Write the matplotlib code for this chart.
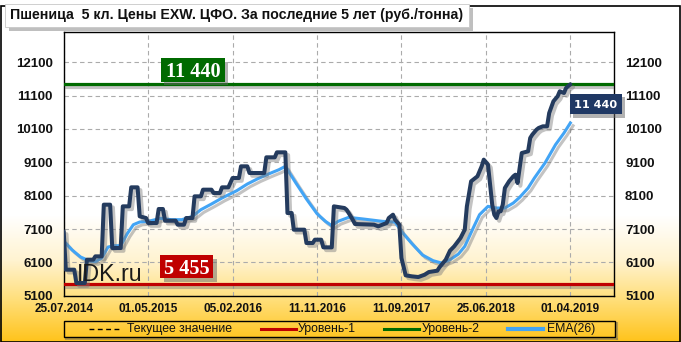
import numpy as np
import matplotlib
matplotlib.use("Agg")
import matplotlib.pyplot as plt
from matplotlib import font_manager
from matplotlib.patches import Rectangle
from matplotlib.lines import Line2D
import matplotlib.patheffects as pe

# ---------------- data ----------------
title_text = "Пшеница  5 кл. Цены EXW. ЦФО. За последние 5 лет (руб./тонна)"
x_tick_weeks = [0, 40, 80, 120, 160, 200, 240]
x_tick_labels = ["25.07.2014", "01.05.2015", "05.02.2016", "11.11.2016",
                 "11.09.2017", "25.06.2018", "01.04.2019"]
y_ticks = [5100, 6100, 7100, 8100, 9100, 10100, 11100, 12100]
level_1 = 5455
level_2 = 11440
current_value = 11440
legend_labels = ["Текущее значение", "Уровень-1", "Уровень-2", "EMA(26)"]

price_weeks = [0, 1, 5, 6, 10, 11, 14, 15, 18, 19, 22, 23, 27, 28, 31, 32, 35, 36,
               39, 40, 44, 45, 47, 48, 53, 54, 57, 58, 61, 62, 65, 66, 70, 71, 74,
               75, 78, 80, 83, 84, 87, 88, 95, 96, 100, 101, 105, 106, 108, 109,
               114, 115, 118, 119, 122, 123, 127, 128, 133, 134, 136, 138, 147,
               149, 151, 153, 154, 156, 157, 159, 160, 162, 165, 168, 171, 173,
               177, 178, 181, 183, 185, 188, 190, 191, 193, 196, 198, 199, 201,
               202, 203, 204, 205, 206, 207, 208, 209, 211, 213, 214, 215, 216,
               217, 220, 221, 222, 224, 225, 227, 229, 230, 232, 234, 235, 237,
               238, 240]
price_values = [7030, 5880, 5880, 5480, 5480, 6180, 6180, 6280, 6280, 7830, 7830,
                6530, 6530, 7780, 7780, 8350, 8350, 7480, 7430, 7280, 7280, 7700,
                7700, 7350, 7350, 7230, 7230, 7430, 7430, 8080, 8080, 8280, 8280,
                8180, 8180, 8350, 8350, 8630, 8630, 8980, 8980, 8780, 8780, 9250,
                9250, 9400, 9400, 7580, 7580, 7080, 7080, 6680, 6680, 6780, 6780,
                6550, 6550, 7780, 7730, 7680, 7480, 7250, 7230, 7180, 7230, 7280,
                7430, 7530, 7380, 7230, 6230, 5710, 5680, 5660, 5730, 5810, 5850,
                5950, 6180, 6450, 6580, 6830, 7080, 7780, 8530, 8680, 8980, 9180,
                9030, 8430, 7830, 7530, 7430, 7630, 7630, 7830, 8330, 8530, 8680,
                8730, 8480, 8930, 9380, 9430, 9830, 9930, 10080, 10130, 10180,
                10180, 10580, 10930, 11080, 11230, 11180, 11330, 11440]

ema_weeks = [0, 4, 8, 12, 15, 18, 21, 24, 27, 30, 33, 36, 40, 46, 51, 56, 61, 65,
             70, 75, 82, 87, 92, 97, 102, 105, 110, 115, 120, 124, 127, 130, 135,
             142, 151, 157, 160, 165, 170, 175, 179, 183, 187, 190, 194, 197, 201,
             205, 209, 213, 216, 220, 223, 228, 233, 237, 240]
ema_values = [6740, 6470, 6260, 6150, 6120, 6230, 6560, 6600, 6600, 6950, 7230,
              7310, 7330, 7420, 7380, 7380, 7480, 7680, 7850, 8030, 8250, 8450,
              8610, 8750, 8880, 8980, 8480, 8000, 7560, 7330, 7200, 7330, 7450,
              7400, 7330, 7310, 7030, 6660, 6320, 6150, 6080, 6180, 6350, 6580,
              7130, 7530, 7780, 7730, 7730, 7880, 8050, 8330, 8630, 9080, 9630,
              9980, 10280]

# ---------------- fonts ----------------
def font_ok(name):
    try:
        font_manager.findfont(font_manager.FontProperties(family=name),
                              fallback_to_default=False)
        return True
    except Exception:
        return False

SANS = "Liberation Sans" if font_ok("Liberation Sans") else "DejaVu Sans"
NARROW = "Liberation Sans Narrow" if font_ok("Liberation Sans Narrow") else SANS
SERIF = "Liberation Serif" if font_ok("Liberation Serif") else "DejaVu Serif"
VERD = "DejaVu Sans"

W, H = 681, 342
fig = plt.figure(figsize=(W / 100, H / 100), dpi=100)
renderer = fig.canvas.get_renderer()


def fit_size(s, family, weight, target_w, base=10):
    t = fig.text(0, 0, s, family=family, weight=weight, fontsize=base)
    w = t.get_window_extent(renderer).width
    t.remove()
    return base * target_w / w


def fx(px):
    return px / W


def fy(py):
    return 1 - py / H


# ---------------- background gradient ----------------
bg = fig.add_axes([0, 0, 1, 1], zorder=-10)
yy = np.arange(H)
stops_y = [0, 215, 260, 300, 342]
stops_c = np.array([[255, 255, 255], [255, 255, 255], [255, 243, 208],
                    [255, 222, 120], [255, 195, 25]]) / 255.0
grad = np.stack([np.interp(yy, stops_y, stops_c[:, k]) for k in range(3)], axis=1)
bg.imshow(grad[:, None, :], aspect="auto", extent=[0, 1, 0, 1])
bg.set_axis_off()

# ---------------- main axes ----------------
ax = fig.add_axes([fx(63.7), fy(295.7), (614 - 63.7) / W, (295.7 - 32.3) / H])
ax.patch.set_alpha(0)
ax.set_xlim(0, 260.7)
ax.set_ylim(5100, 13000)
ax.set_xticks(x_tick_weeks)
ax.set_xticklabels(x_tick_labels)
ax.set_yticks(y_ticks)
ax.set_yticklabels([str(v) for v in y_ticks])
ax.grid(True, color="#ABABAB", linestyle=(0, (4, 3)), linewidth=0.8, zorder=0)
ax.set_axisbelow(True)
for sp in ax.spines.values():
    sp.set_color("black")
    sp.set_linewidth(1.0)

ysz = fit_size("12100", SANS, "bold", 37)
xsz = fit_size("25.07.2014", SANS, "bold", 59)
ax.tick_params(axis="both", length=0)
ax.tick_params(axis="y", labelleft=True, labelright=True, pad=8, labelsize=ysz)
ax.tick_params(axis="x", pad=5, labelsize=xsz)
for lab in ax.get_xticklabels() + ax.get_yticklabels():
    lab.set_family(SANS)
    lab.set_weight("bold")
    lab.set_color("#111111")
for t in ax.yaxis.get_major_ticks():
    t.label2.set_family(SANS)
    t.label2.set_weight("bold")
    t.label2.set_fontsize(ysz)
    t.label2.set_color("#111111")

shadow = [pe.SimpleLineShadow(offset=(2, -2), shadow_color="#7a7a7a", alpha=0.45),
          pe.Normal()]

C_PRICE = "#243B5E"
C_EMA = "#42A4F5"
C_GREEN = "#006A00"
C_RED = "#C00000"

ax.axhline(current_value, color="black", linestyle=(0, (4, 3)), linewidth=1, zorder=2)
ax.axhline(level_2, color=C_GREEN, linewidth=2.3, zorder=3, path_effects=shadow)
ax.axhline(level_1, color=C_RED, linewidth=2.3, zorder=3, path_effects=shadow)
ax.plot(ema_weeks, ema_values, color=C_EMA, linewidth=2.2, zorder=4,
        solid_joinstyle="round", path_effects=shadow)
ax.plot(price_weeks, price_values, color=C_PRICE, linewidth=2.9, zorder=5,
        solid_joinstyle="round", solid_capstyle="round", path_effects=shadow)

# ---------------- value boxes ----------------
def value_box(xd, yd, dx, dy, w, h, fc, s, family, target_w):
    X, Y = ax.transData.transform((xd, yd))
    cx, cy = X + dx, Y + dy
    rect = Rectangle(((cx - w / 2) / W, (cy - h / 2) / H), w / W, h / H,
                     transform=fig.transFigure, fc=fc, ec="none", zorder=6)
    rect.set_path_effects([pe.SimplePatchShadow(offset=(2.5, -2.5),
                                                shadow_rgbFace="#666666", alpha=0.5),
                           pe.Normal()])
    fig.add_artist(rect)
    sz = fit_size(s, family, "bold", target_w)
    fig.text(cx / W, (cy - 0.36 * sz * 100 / 72) / H, s, family=family,
             weight="bold", fontsize=sz, color="white", ha="center",
             va="baseline", zorder=7)

value_box(61.2, level_2, 0, 14.5, 64, 23.4, C_GREEN, "11 440", SERIF, 54.5)
value_box(58.3, level_1, 0, 17.3, 52.7, 23, C_RED, "5 455", SERIF, 45.4)
value_box(price_weeks[-1], price_values[-1], 25.5, -19.7, 51.6, 20.3, "#1F3864",
          "11 440", VERD, 43.6)

# watermark
isz = fit_size("IDK.ru", NARROW, "normal", 66)
fig.text(fx(77), fy(280.7), "IDK.ru", family=NARROW, fontsize=isz,
         color="#1a1a1a", ha="left", va="baseline", zorder=7)

# ---------------- title ----------------
tbox = Rectangle((fx(5), fy(27)), 464 / W, 23 / H, transform=fig.transFigure,
                 fc="white", ec="#C8C8C8", lw=0.6, zorder=8)
tbox.set_path_effects([pe.SimplePatchShadow(offset=(3, -3), shadow_rgbFace="#808080",
                                            alpha=0.5), pe.Normal()])
fig.add_artist(tbox)
tsz = fit_size(title_text, NARROW, "bold", 452)
fig.text(fx(10), fy(15.5), title_text, family=NARROW, weight="bold", fontsize=tsz,
         color="#111111", ha="left", va="center", zorder=9)

# ---------------- legend ----------------
ly0, ly1 = 321, 337
lrect = Rectangle((fx(64), fy(ly1)), (615 - 64) / W, (ly1 - ly0) / H,
                  transform=fig.transFigure, fc="none", ec="black", lw=1.0, zorder=8)
fig.add_artist(lrect)
fig.add_artist(Line2D([fx(66), fx(617)], [fy(ly1 + 1.5)] * 2, transform=fig.transFigure,
                      color="#8a7a50", lw=1.5, alpha=0.6, zorder=7))
fig.add_artist(Line2D([fx(616.5)] * 2, [fy(ly0 + 2), fy(ly1 + 1.5)],
                      transform=fig.transFigure, color="#8a7a50", lw=1.5, alpha=0.6,
                      zorder=7))
lcy = (ly0 + ly1) / 2
lsz = fit_size(legend_labels[0], SANS, "normal", 106)
items = [((89, 122), 127, dict(color="black", lw=1.0, linestyle=(0, (3.5, 2.5)))),
         ((261, 296), 298, dict(color=C_RED, lw=2.2)),
         ((384, 419), 422, dict(color=C_GREEN, lw=2.2)),
         ((508, 543), 547, dict(color=C_EMA, lw=3.0))]
for (xa, xb), xt, style in items:
    fig.add_artist(Line2D([fx(xa), fx(xb)], [fy(lcy)] * 2, transform=fig.transFigure,
                          zorder=9, **style))
for ((xa, xb), xt, style), lab in zip(items, legend_labels):
    fig.text(fx(xt), fy(lcy), lab, family=SANS, fontsize=lsz, color="#111111",
             ha="left", va="center", zorder=9)

# outer frame (top edge sits behind the title box)
fig.add_artist(Rectangle((0.5 / W, 0.5 / H), (W - 1.5) / W, (H - 6) / H,
                         transform=fig.transFigure, fill=False,
                         ec="black", lw=1.2, zorder=7.5))

fig.savefig("out.png", dpi=100)
